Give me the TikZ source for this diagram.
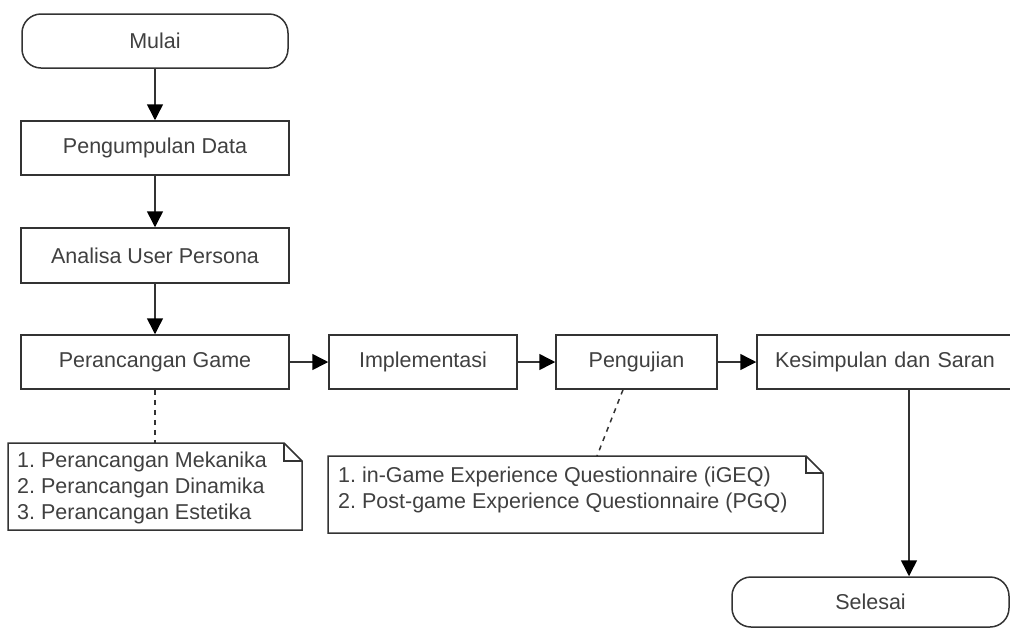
\documentclass[tikz,border=0pt]{standalone}
\usepackage{fontspec}
\setmainfont{Liberation Sans}
\usetikzlibrary{arrows.meta}
\definecolor{ln}{HTML}{333333}
\definecolor{tx}{HTML}{404040}
\frenchspacing
\begin{document}
\begin{tikzpicture}[x=1pt,y=-1pt,
  box/.style={draw=ln,line width=1.5pt,rectangle,minimum height=54pt,inner sep=0pt,text=tx,font=\fontsize{21.5}{25}\selectfont},
  term/.style={box,rounded corners=19pt},
  flow/.style={draw=ln,line width=1.5pt,-{Triangle[length=16pt,width=16pt,color=black]}},
  link/.style={draw=ln,line width=1.5pt,dash pattern=on 5pt off 5pt},
  notetext/.style={anchor=north west,align=left,inner sep=0pt,text=tx,font=\fontsize{21.5}{26}\selectfont},
  noteshape/.style={draw=ln,line width=1.5pt,fill=white}
]
\useasboundingbox (0,0) rectangle (1010,630);
\clip (0,0) rectangle (1010,630);

\node[term,minimum width=266pt] (mulai) at (155,41) {Mulai};
\node[box,minimum width=268pt] (data) at (155,148) {Pengumpulan Data};
\node[box,minimum width=268pt,minimum height=55pt] (persona) at (155,255.5) {Analisa User Persona};
\node[box,minimum width=268pt] (game) at (155,362) {Perancangan Game};
\node[box,minimum width=188pt] (impl) at (423,362) {Implementasi};
\node[box,minimum width=161pt] (uji) at (636.5,362) {Pengujian};
\node[box,minimum width=256pt,text width=256pt,align=left] (kes) at (885,362) {\hspace*{18pt}Kesimpulan dan Saran};
\node[term,minimum width=277pt,minimum height=50pt] (selesai) at (870.5,602) {Selesai};

% note 1
\path[noteshape] (8,443) -- (284,443) -- (302,461) -- (302,530) -- (8,530) -- cycle;
\draw[ln,line width=1.2pt] (284,443) -- (284,461) -- (302,461);
\coordinate (n1top) at (155,443);
\node[notetext] (note1) at (17,452) {1. Perancangan Mekanika\\2. Perancangan Dinamika\\3. Perancangan Estetika};

% note 2
\path[noteshape] (328,456) -- (806,456) -- (823,473) -- (823,533) -- (328,533) -- cycle;
\draw[ln,line width=1.2pt] (806,456) -- (806,473) -- (823,473);
\coordinate (n2top) at (597,456);
\node[notetext] (note2) at (338,467) {1. in-Game Experience Questionnaire (iGEQ)\\2. Post-game Experience Questionnaire (PGQ)};

% connectors
\draw[flow] (mulai) -- (data);
\draw[flow] (data) -- (persona);
\draw[flow] (persona) -- (game);
\draw[flow] (game) -- (impl);
\draw[flow] (impl) -- (uji);
\draw[flow] (uji) -- (kes.west);
\draw[flow] (kes.south -| 909,0) -- (selesai.north -| 909,0);
\draw[link] (game.south) -- (n1top);
\draw[link] (uji.south -| 623,0) -- (n2top);
\end{tikzpicture}
\end{document}
